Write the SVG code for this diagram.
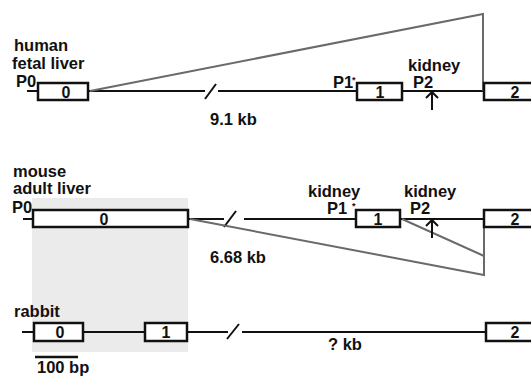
<svg xmlns="http://www.w3.org/2000/svg" width="531" height="377" viewBox="0 0 531 377">
<style>
text{font-family:"Liberation Sans",Arial,sans-serif;font-weight:bold;fill:#111}
.lb{font-size:16.5px}
.ex{font-size:16px;text-anchor:middle}
.ast{font-size:9px}
.box{fill:#fff;stroke:#111;stroke-width:2.5}
.ln{stroke:#111;stroke-width:2;fill:none}
.sp{stroke:#6a6a6a;stroke-width:2;fill:none}
.ar{stroke:#111;stroke-width:2;fill:none}
</style>
<rect x="32" y="198" width="156" height="154" fill="#ebebeb"/>
<g id="connectors">
  <path class="ln" d="M27 91H38M88 91H205M218 91H357M402 91H484"/>
  <path class="ln" d="M205 99L216 84"/>
  <path class="sp" d="M90 91L483 14V91"/>
  <path class="ar" d="M432 110V92M426 98L432 92L438 98"/>
  <path class="ln" d="M23 219H33M188 219H224M244 219H356M400 219H484"/>
  <path class="ln" d="M224 227L236 211"/>
  <path class="sp" d="M190 219L484 275V219M402 219L484 256"/>
  <path class="ar" d="M432 238V220M426 226L432 220L438 226"/>
  <path class="ln" d="M22 332H34M83 332H145M187 332H228M242 332H486"/>
  <path class="ln" d="M227 339L239 324"/>
  <path class="ln" d="M35 357H78" style="stroke-width:2.5"/>
</g>
<g id="human">
  <text class="lb" x="14" y="51">human</text>
  <text class="lb" x="12" y="69">fetal liver</text>
  <text class="lb" x="16" y="87">P0</text>
  <g id="h-exon0"><rect class="box" x="38" y="83" width="50" height="17"/><text class="ex" x="66" y="97.5">0</text></g>
  <text class="lb" x="210" y="125">9.1 kb</text>
  <text class="lb" x="333" y="88">P1</text>
  <text class="ast" x="352" y="83">*</text>
  <g id="h-exon1"><rect class="box" x="357" y="83" width="45" height="17"/><text class="ex" x="380" y="97.5">1</text></g>
  <text class="lb" x="408" y="71">kidney</text>
  <text class="lb" x="413" y="88">P2</text>
  <g id="h-exon2"><rect class="box" x="484" y="83" width="60" height="17"/><text class="ex" x="515" y="97.5">2</text></g>
</g>
<g id="mouse">
  <text class="lb" x="13" y="177">mouse</text>
  <text class="lb" x="13" y="194">adult liver</text>
  <text class="lb" x="12" y="213">P0</text>
  <g id="m-exon0"><rect class="box" x="33" y="210" width="155" height="17"/><text class="ex" x="104" y="224.5">0</text></g>
  <text class="lb" x="210" y="263">6.68 kb</text>
  <text class="lb" x="308" y="197">kidney</text>
  <text class="lb" x="327" y="214">P1</text>
  <text class="ast" x="352" y="209">*</text>
  <g id="m-exon1"><rect class="box" x="356" y="210" width="44" height="17"/><text class="ex" x="378" y="224.5">1</text></g>
  <text class="lb" x="404" y="197">kidney</text>
  <text class="lb" x="410" y="214">P2</text>
  <g id="m-exon2"><rect class="box" x="484" y="210" width="60" height="17"/><text class="ex" x="515" y="224.5">2</text></g>
</g>
<g id="rabbit">
  <text class="lb" x="14" y="317">rabbit</text>
  <g id="r-exon0"><rect class="box" x="34" y="323" width="49" height="18"/><text class="ex" x="60" y="337.5">0</text></g>
  <g id="r-exon1"><rect class="box" x="145" y="323" width="42" height="18"/><text class="ex" x="166" y="337.5">1</text></g>
  <g id="r-exon2"><rect class="box" x="486" y="323" width="60" height="18"/><text class="ex" x="515" y="337.5">2</text></g>
  <text class="lb" x="328" y="350">? kb</text>
  <text class="lb" x="37" y="373">100 bp</text>
</g>
</svg>
